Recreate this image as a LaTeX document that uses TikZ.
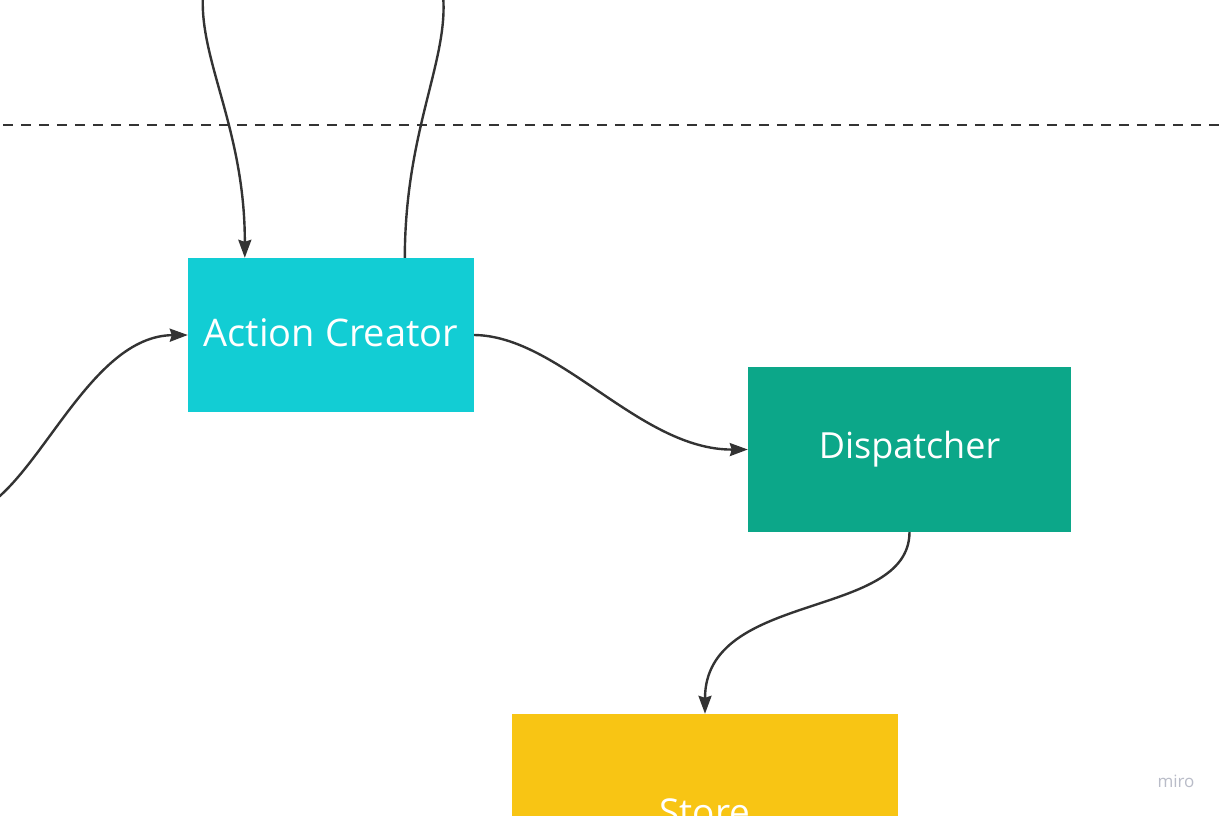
\documentclass[tikz,border=0pt]{standalone}
\usepackage{fontspec}
\setmainfont{Open Sans}
\usetikzlibrary{arrows.meta}
\definecolor{acC}{HTML}{12CDD4}
\definecolor{dpC}{HTML}{0CA789}
\definecolor{stC}{HTML}{F8C514}
\definecolor{lineC}{HTML}{333333}
\definecolor{miroC}{HTML}{B9BCC8}
\begin{document}
\begin{tikzpicture}[x=1pt,y=-1pt,
  box/.style={draw=none, inner sep=0pt, text=white, font=\fontsize{36}{43}\selectfont, anchor=center},
  wire/.style={draw=lineC, line width=2.4pt},
  conn/.style={wire, -{Stealth[length=18pt,width=13pt,inset=2pt]}}]
\useasboundingbox (0,0) rectangle (1224,816);
\clip (0,0) rectangle (1224,816);
\fill[white] (0,0) rectangle (1224,816);
\node[box, fill=acC, minimum width=286pt, minimum height=154pt, font=\fontsize{38}{46}\selectfont] (ac) at (331,335) {\raisebox{5pt}{Action Creator}};
\node[box, fill=dpC, minimum width=323pt, minimum height=165pt] (dp) at (909.5,449.5) {Dispatcher};
\node[box, fill=stC, minimum width=386pt, minimum height=196pt, font=\fontsize{37}{44}\selectfont] (st) at (705,812) {Store};
\node[text=miroC, font=\fontsize{17}{20}\selectfont, inner sep=0pt] (miro) at (1176,781) {miro};
\coordinate (dl) at (3,125);
\coordinate (dr) at (1224,125);
\coordinate (t1) at (203,-5);
\coordinate (t2) at (443,-5);
\coordinate (l1) at (-20,510);
\draw[draw=lineC, line width=2.2pt, dash pattern=on 10pt off 8pt] (dl) -- (dr);
\draw[conn] (t1) .. controls (199,60) and (245,130) .. ([xshift=57pt]ac.north west);
\draw[wire] ([xshift=217pt]ac.north west) .. controls (405,130) and (449,60) .. (t2);
\draw[conn] (l1) .. controls (40,480) and (90,336) .. (ac.west);
\draw[conn] (ac.east) .. controls (560,336) and (640,450) .. (dp.west);
\draw[conn] (dp.south) .. controls (909,620) and (705,590) .. (st.north);
\end{tikzpicture}
\end{document}
